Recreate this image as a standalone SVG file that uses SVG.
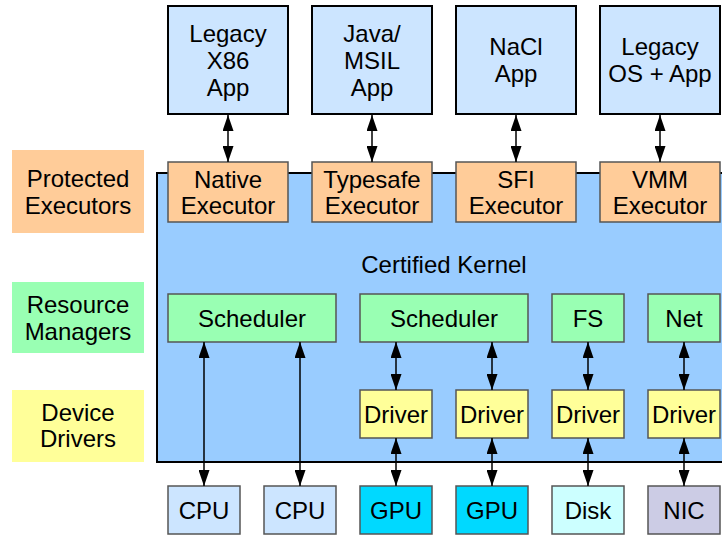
<svg xmlns="http://www.w3.org/2000/svg" width="722" height="536" viewBox="0 0 722 536">
<defs>
<style>
text{font-family:"Liberation Sans",Arial,sans-serif;font-size:24px;fill:#000;text-anchor:middle}
.app{fill:#CCE5FF;stroke:#000;stroke-width:2}
.exe{fill:#FFCC99;stroke:#555;stroke-width:1.5}
.mgr{fill:#99FFB3;stroke:#555;stroke-width:1.5}
.drv{fill:#FFFF99;stroke:#555;stroke-width:1.5}
.cpu{fill:#CCE5FF;stroke:#555;stroke-width:1.5}
.gpu{fill:#00D9FF;stroke:#555;stroke-width:1.5}
.disk{fill:#CCFFFF;stroke:#555;stroke-width:1.5}
.nic{fill:#CCCCE5;stroke:#555;stroke-width:1.5}
.con line{stroke:#000;stroke-width:1.5;marker-start:url(#ah);marker-end:url(#ah)}
</style>
<marker id="ah" markerUnits="userSpaceOnUse" markerWidth="16" markerHeight="11" refX="16" refY="5.5" orient="auto-start-reverse">
<path d="M0,0 L16,5.5 L0,11 z" fill="#000"/>
</marker>
</defs>
<rect width="722" height="536" fill="#fff"/>

<g id="label-protected"><rect x="12" y="150" width="132" height="83" fill="#FFCC99"/><text x="78" y="187">Protected</text><text x="78" y="214">Executors</text></g>
<g id="label-resource"><rect x="12" y="282" width="132" height="71" fill="#99FFB3"/><text x="78" y="313">Resource</text><text x="78" y="340">Managers</text></g>
<g id="label-device"><rect x="12" y="390" width="132" height="72" fill="#FFFF99"/><text x="78" y="421">Device</text><text x="78" y="447">Drivers</text></g>

<g id="kernel"><rect x="157" y="173" width="566" height="289" fill="#99CCFF" stroke="#000" stroke-width="2"/><text x="444" y="273">Certified Kernel</text></g>

<g id="app-x86"><rect class="app" x="168" y="6" width="120" height="108"/><text x="228" y="42">Legacy</text><text x="228" y="69">X86</text><text x="228" y="96">App</text></g>
<g id="app-java"><rect class="app" x="312" y="6" width="120" height="108"/><text x="372" y="42">Java/</text><text x="372" y="69">MSIL</text><text x="372" y="96">App</text></g>
<g id="app-nacl"><rect class="app" x="456" y="6" width="120" height="108"/><text x="516" y="55">NaCl</text><text x="516" y="82">App</text></g>
<g id="app-legacyos"><rect class="app" x="600" y="6" width="120" height="108"/><text x="660" y="55">Legacy</text><text x="660" y="82">OS + App</text></g>

<g id="exe-native"><rect class="exe" x="168" y="162" width="120" height="60"/><text x="228" y="188">Native</text><text x="228" y="214">Executor</text></g>
<g id="exe-typesafe"><rect class="exe" x="312" y="162" width="120" height="60"/><text x="372" y="188">Typesafe</text><text x="372" y="214">Executor</text></g>
<g id="exe-sfi"><rect class="exe" x="456" y="162" width="120" height="60"/><text x="516" y="188">SFI</text><text x="516" y="214">Executor</text></g>
<g id="exe-vmm"><rect class="exe" x="600" y="162" width="120" height="60"/><text x="660" y="188">VMM</text><text x="660" y="214">Executor</text></g>

<g id="mgr-sched1"><rect class="mgr" x="168" y="294" width="168" height="48"/><text x="252" y="327">Scheduler</text></g>
<g id="mgr-sched2"><rect class="mgr" x="360" y="294" width="168" height="48"/><text x="444" y="327">Scheduler</text></g>
<g id="mgr-fs"><rect class="mgr" x="552" y="294" width="72" height="48"/><text x="588" y="327">FS</text></g>
<g id="mgr-net"><rect class="mgr" x="648" y="294" width="72" height="48"/><text x="684" y="327">Net</text></g>

<g id="drv-1"><rect class="drv" x="360" y="390" width="72" height="48"/><text x="396" y="423">Driver</text></g>
<g id="drv-2"><rect class="drv" x="456" y="390" width="72" height="48"/><text x="492" y="423">Driver</text></g>
<g id="drv-3"><rect class="drv" x="552" y="390" width="72" height="48"/><text x="588" y="423">Driver</text></g>
<g id="drv-4"><rect class="drv" x="648" y="390" width="72" height="48"/><text x="684" y="423">Driver</text></g>

<g id="dev-cpu1"><rect class="cpu" x="168" y="486" width="72" height="48"/><text x="204" y="519">CPU</text></g>
<g id="dev-cpu2"><rect class="cpu" x="264" y="486" width="72" height="48"/><text x="300" y="519">CPU</text></g>
<g id="dev-gpu1"><rect class="gpu" x="360" y="486" width="72" height="48"/><text x="396" y="519">GPU</text></g>
<g id="dev-gpu2"><rect class="gpu" x="456" y="486" width="72" height="48"/><text x="492" y="519">GPU</text></g>
<g id="dev-disk"><rect class="disk" x="552" y="486" width="72" height="48"/><text x="588" y="519">Disk</text></g>
<g id="dev-nic"><rect class="nic" x="648" y="486" width="72" height="48"/><text x="684" y="519">NIC</text></g>

<g id="connectors" class="con">
<line x1="228" y1="115" x2="228" y2="162"/>
<line x1="372" y1="115" x2="372" y2="162"/>
<line x1="516" y1="115" x2="516" y2="162"/>
<line x1="660" y1="115" x2="660" y2="162"/>
<line x1="204" y1="342" x2="204" y2="486"/>
<line x1="300" y1="342" x2="300" y2="486"/>
<line x1="396" y1="342" x2="396" y2="390"/>
<line x1="492" y1="342" x2="492" y2="390"/>
<line x1="588" y1="342" x2="588" y2="390"/>
<line x1="684" y1="342" x2="684" y2="390"/>
<line x1="396" y1="438" x2="396" y2="486"/>
<line x1="492" y1="438" x2="492" y2="486"/>
<line x1="588" y1="438" x2="588" y2="486"/>
<line x1="684" y1="438" x2="684" y2="486"/>
</g>
</svg>
